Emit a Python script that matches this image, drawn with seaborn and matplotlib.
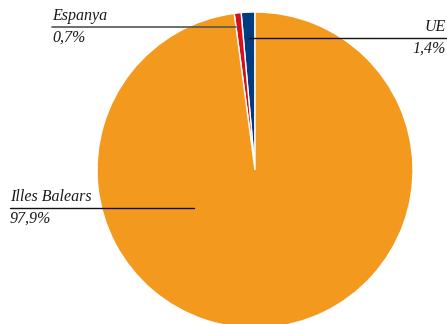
import matplotlib
matplotlib.use('Agg')
import matplotlib.pyplot as plt
import seaborn as sns

# Data
labels = ['UE', 'Espanya', 'Illes Balears']
values = [1.4, 0.7, 97.9]
pct_labels = ['1,4%', '0,7%', '97,9%']
colors = ['#003B80', '#D2101E', '#F39A1E']

sns.set_style('white')
plt.rcParams['font.family'] = ['Liberation Serif', 'DejaVu Serif']

W, H = 447, 324
fig = plt.figure(figsize=(W / 100, H / 100), dpi=100)
ax = fig.add_axes([0, 0, 1, 1])

cx, cy, r = 255, H - 170, 158
ax.pie(values, colors=colors, startangle=90, counterclock=True,
       center=(cx, cy), radius=r, frame=True,
       wedgeprops=dict(edgecolor='white', linewidth=1))
ax.set_xlim(0, W)
ax.set_ylim(0, H)
ax.axis('off')

fs = 11.5
tc = '#1a1a1a'
# UE label
ax.plot([249, W], [H - 38, H - 38], color='#111111', lw=1)
ax.text(W - 1, H - 35, labels[0], ha='right', va='bottom', style='italic', fontsize=fs, color=tc)
ax.text(W - 1, H - 41, pct_labels[0], ha='right', va='top', style='italic', fontsize=fs, color=tc)
# Espanya label
ax.plot([52, 236], [H - 27, H - 27], color='#555555', lw=1.2)
ax.text(52, H - 24, labels[1], ha='left', va='bottom', style='italic', fontsize=fs, color=tc)
ax.text(52, H - 30, pct_labels[1], ha='left', va='top', style='italic', fontsize=fs, color=tc)
# Illes Balears label
ax.plot([10, 194], [H - 208, H - 208], color='#111111', lw=1)
ax.text(10, H - 205, labels[2], ha='left', va='bottom', style='italic', fontsize=fs, color=tc)
ax.text(10, H - 211, pct_labels[2], ha='left', va='top', style='italic', fontsize=fs, color=tc)

fig.savefig('out.png', dpi=100)
